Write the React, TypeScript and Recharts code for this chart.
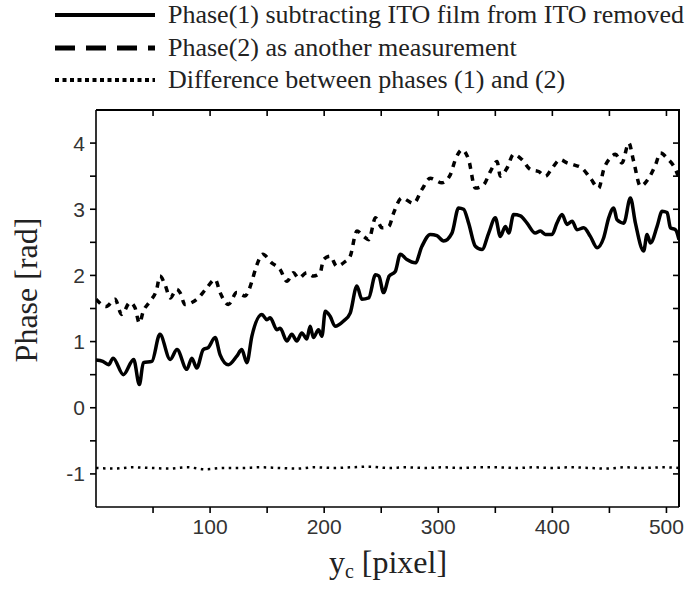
import { LineChart, Line, XAxis, YAxis } from 'recharts';

// [y_c pixel, phase rad]
const phase1: [number, number][] = [
  [0, 0.72], [6, 0.7], [11, 0.65], [15, 0.75], [24, 0.5], [33, 0.73], [38, 0.35], [41.5, 0.68],
  [49, 0.7], [56, 1.11], [65, 0.73], [71, 0.88], [79.6, 0.58], [84, 0.75], [88.3, 0.6], [94, 0.88],
  [98.4, 0.91], [104.4, 1.06], [108.8, 0.8], [116, 0.65], [123.4, 0.78], [127.8, 0.88], [132.2, 0.68],
  [136.6, 1.08], [145.4, 1.41], [149.8, 1.33], [152.7, 1.36], [158.5, 1.18], [161.4, 1.2], [167.3, 1.01],
  [171.6, 1.11], [176, 1.01], [180.4, 1.13], [184.8, 1.04], [187.7, 1.23], [190.6, 1.06], [195, 1.18],
  [198, 1.08], [201, 1.46], [205.3, 1.38], [209.6, 1.23], [217, 1.31], [222.8, 1.43], [228.7, 1.84],
  [233, 1.64], [239, 1.66], [245, 2.01], [248, 1.99], [252, 1.74], [257, 1.99], [262.3, 2.06],
  [266.7, 2.32], [272.5, 2.24], [279.8, 2.19], [285.7, 2.44], [293, 2.62], [298.8, 2.6], [304.7, 2.52],
  [312, 2.64], [317.8, 3.02], [322.2, 3.0], [326.6, 2.79], [332.5, 2.44], [338.3, 2.39], [344.2, 2.64],
  [350, 2.87], [354.4, 2.59], [358.8, 2.74], [361.8, 2.64], [366, 2.92], [372, 2.9], [377.8, 2.79],
  [385, 2.64], [389.5, 2.67], [393.9, 2.62], [399.7, 2.62], [404, 2.79], [408.5, 2.92], [412.9, 2.77],
  [417.3, 2.82], [421.6, 2.69], [427.5, 2.72], [433.3, 2.59], [439.2, 2.42], [445, 2.57], [449.4, 2.87],
  [453.8, 3.02], [456.7, 2.84], [462.6, 2.79], [468.4, 3.17], [472.8, 2.79], [480, 2.37], [483, 2.62],
  [486, 2.49], [491.8, 2.74], [496.2, 2.97], [500.6, 2.95], [503.5, 2.72], [508, 2.69], [511, 2.54],
];

const phase2: [number, number][] = [
  [0, 1.64], [9, 1.53], [16.7, 1.64], [22.5, 1.41], [29.8, 1.59], [34.2, 1.51], [38, 1.28], [41.5, 1.46],
  [47.4, 1.61], [53.2, 1.79], [56, 1.99], [60.5, 1.86], [65, 1.66], [70.8, 1.79], [73.7, 1.74], [78, 1.56],
  [84, 1.59], [89.7, 1.66], [97, 1.81], [104.4, 1.94], [108.8, 1.74], [116, 1.56], [123.4, 1.74],
  [130.7, 1.69], [133.6, 1.76], [136.6, 1.91], [141, 2.16], [146.2, 2.32], [154, 2.19], [161.4, 2.09],
  [167.3, 1.91], [173, 2.04], [177.5, 1.96], [184.8, 2.04], [190.6, 1.99], [196.5, 2.04], [199.4, 2.24],
  [205.3, 2.29], [211, 2.14], [218.4, 2.21], [222.8, 2.29], [228.7, 2.67], [234.6, 2.59], [239, 2.54],
  [245, 2.87], [250.7, 2.72], [256.6, 2.74], [261, 2.95], [268, 3.17], [278.4, 3.09], [285.7, 3.3],
  [293, 3.47], [303.2, 3.4], [310.5, 3.52], [315, 3.75], [320.8, 3.9], [326.6, 3.75], [332.5, 3.32],
  [339.8, 3.37], [345.6, 3.57], [351.5, 3.72], [354.4, 3.5], [360.2, 3.62], [366, 3.83], [373.4, 3.75],
  [380.7, 3.6], [388, 3.57], [393.9, 3.5], [399.7, 3.62], [407, 3.75], [412.9, 3.7], [418.7, 3.67],
  [426, 3.62], [433.3, 3.47], [440.6, 3.32], [445, 3.6], [450.9, 3.78], [455.3, 3.83], [461, 3.7],
  [467, 4.0], [471.3, 3.72], [477.2, 3.35], [484.5, 3.47], [490.4, 3.67], [494.7, 3.85], [500.6, 3.77],
  [508, 3.6], [511, 3.47],
];

const difference: [number, number][] = [
  [0, -0.91], [16, -0.92], [32, -0.9], [48, -0.91], [64, -0.92], [80, -0.9], [96, -0.93], [112, -0.91],
  [128, -0.91], [144, -0.9], [160, -0.91], [176, -0.92], [192, -0.9], [208, -0.91], [224, -0.9],
  [240, -0.89], [256, -0.91], [272, -0.9], [288, -0.91], [304, -0.9], [320, -0.91], [336, -0.9],
  [352, -0.9], [368, -0.91], [384, -0.9], [400, -0.91], [416, -0.9], [432, -0.91], [448, -0.92],
  [464, -0.9], [480, -0.91], [496, -0.9], [511, -0.91],
];

const xTicks = [50, 100, 150, 200, 250, 300, 350, 400, 450, 500];
const yTicks = [-1, -0.5, 0, 0.5, 1, 1.5, 2, 2.5, 3, 3.5, 4];

const legendItems = [
  { label: 'Phase(1) subtracting ITO film from ITO removed', dash: undefined, width: 4 },
  { label: 'Phase(2) as another measurement', dash: '20 11', width: 5 },
  { label: 'Difference between phases (1) and (2)', dash: '4 3.5', width: 4 },
];

const toRows = (pts: [number, number][]) => pts.map(([x, y]) => ({ x, y }));

const tickStyle = { fontFamily: 'Liberation Sans, Arial, sans-serif', fontSize: 21, fill: '#333' };
const serif = '"Liberation Serif", "Times New Roman", serif';
const layer = { position: 'absolute' as const, left: 0, top: 0, width: 697, height: 589 };

export default function App() {
  return (
    <div style={{ position: 'absolute', left: 0, top: 0, width: 697, height: 589, background: '#fff' }}>
      <div style={{ position: 'absolute', left: 55, top: 0, fontFamily: serif, fontSize: 26, color: '#222' }}>
        {legendItems.map((it, i) => (
          <div key={i} style={{ position: 'absolute', top: i * 32.5, left: 0, height: 30, display: 'flex', alignItems: 'center', whiteSpace: 'nowrap' }}>
            <svg width={100} height={10} style={{ marginRight: 13 }}>
              <line x1={0} y1={5} x2={100} y2={5} stroke="#000" strokeWidth={it.width} strokeDasharray={it.dash} />
            </svg>
            <span>{it.label}</span>
          </div>
        ))}
      </div>

      {/* main chart: bottom and left axes with the three series */}
      <div style={layer}>
        <LineChart width={697} height={589} margin={{ top: 110, right: 18, bottom: 42, left: 36 }}>
          <XAxis
            type="number"
            dataKey="x"
            domain={[0, 511]}
            ticks={xTicks}
            tickFormatter={(v: number) => (v % 100 === 0 ? String(v) : '')}
            tick={tickStyle}
            tickSize={6}
            tickMargin={6}
            height={40}
            stroke="#000"
            strokeWidth={1.6}
            allowDataOverflow
          />
          <YAxis
            type="number"
            domain={[-1.5, 4.5]}
            ticks={yTicks}
            tickFormatter={(v: number) => (Number.isInteger(v) ? String(v) : '')}
            tick={tickStyle}
            tickSize={6}
            tickMargin={5}
            width={60}
            stroke="#000"
            strokeWidth={1.6}
            allowDataOverflow
          />
          <Line data={toRows(phase1)} dataKey="y" type="monotone" stroke="#000" strokeWidth={3.5} dot={false} isAnimationActive={false} />
          <Line data={toRows(phase2)} dataKey="y" type="monotone" stroke="#000" strokeWidth={3.5} strokeDasharray="6 6" dot={false} isAnimationActive={false} />
          <Line data={toRows(difference)} dataKey="y" type="monotone" stroke="#000" strokeWidth={2.5} strokeDasharray="2.5 4.5" dot={false} isAnimationActive={false} />
        </LineChart>
      </div>

      {/* overlay: top and right axes carrying the inward ticks */}
      <div style={{ ...layer, pointerEvents: 'none', zIndex: 4 }}>
        <LineChart width={697} height={589} margin={{ top: 80, right: 0, bottom: 82, left: 96 }}>
          <XAxis
            orientation="top"
            type="number"
            dataKey="x"
            domain={[0, 511]}
            ticks={xTicks}
            tickFormatter={() => ''}
            tickSize={-6}
            height={30}
            stroke="#000"
            strokeWidth={1.6}
            allowDataOverflow
          />
          <YAxis
            orientation="right"
            type="number"
            domain={[-1.5, 4.5]}
            ticks={yTicks}
            tickFormatter={() => ''}
            tickSize={-6}
            width={18}
            stroke="#000"
            strokeWidth={1.6}
            allowDataOverflow
          />
          <Line data={toRows(difference)} dataKey="y" stroke="#fff" strokeOpacity={0} dot={false} isAnimationActive={false} />
        </LineChart>
      </div>

      {/* top and right edges of the plot frame */}
      <div style={{ position: 'absolute', zIndex: 5, left: 96, top: 109, width: 584, height: 398, boxSizing: 'border-box', borderTop: '2px solid #000', borderRight: '2px solid #000', pointerEvents: 'none' }} />

      <div style={{ position: 'absolute', zIndex: 5, left: 26, top: 290, transform: 'translate(-50%, -50%) rotate(-90deg)', fontFamily: serif, fontSize: 32, color: '#222', whiteSpace: 'nowrap' }}>
        Phase [rad]
      </div>
      <div style={{ position: 'absolute', zIndex: 5, left: 388, top: 563, transform: 'translate(-50%, -50%)', fontFamily: serif, fontSize: 32, color: '#222', whiteSpace: 'nowrap' }}>
        y<sub style={{ fontSize: 20, verticalAlign: '-0.25em' }}>c</sub> [pixel]
      </div>
    </div>
  );
}
